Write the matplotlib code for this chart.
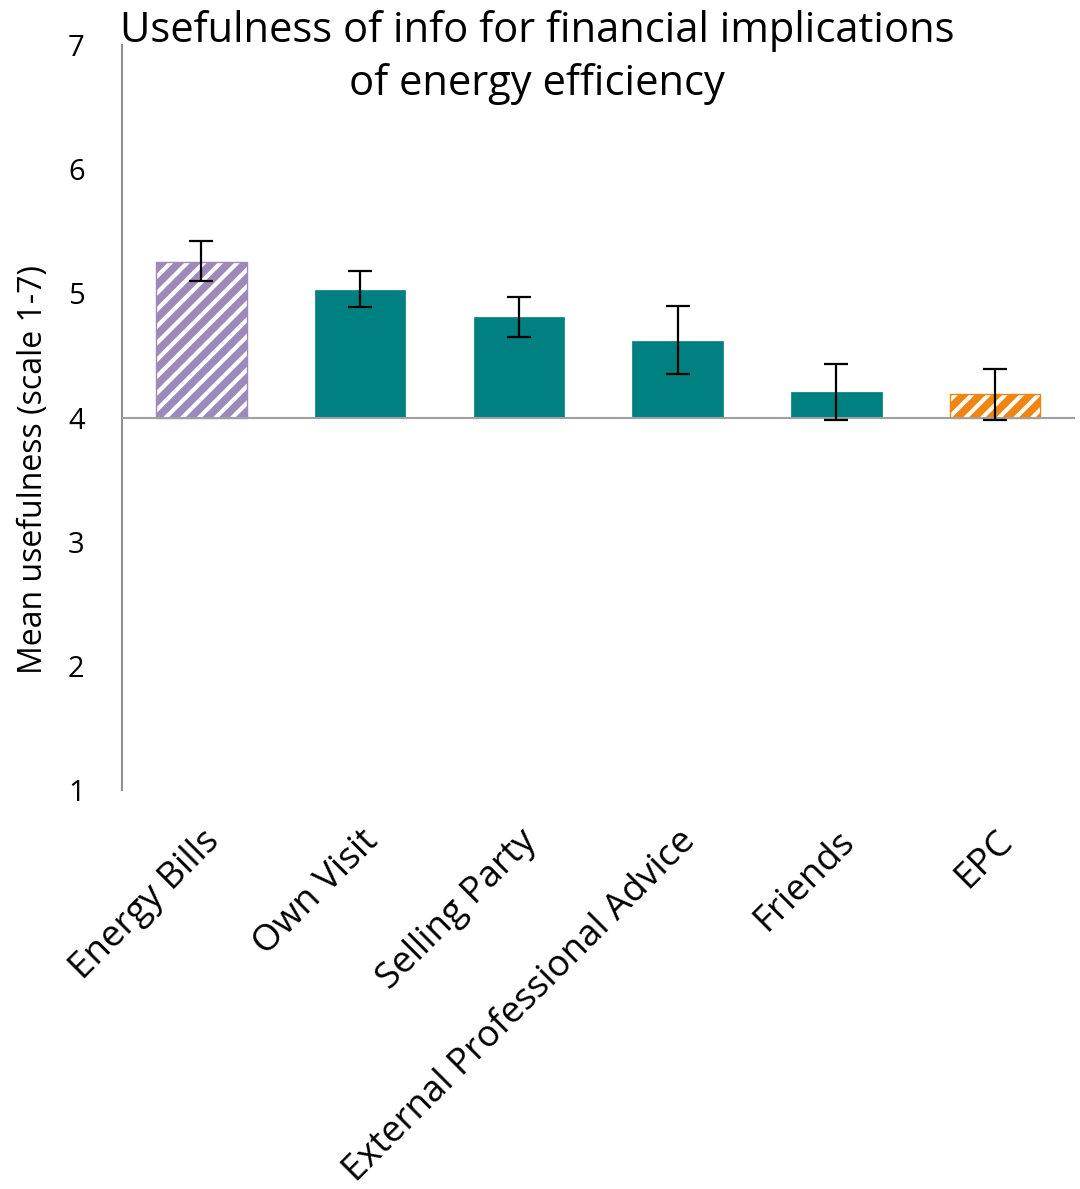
import numpy as np
import matplotlib.pyplot as plt

# data
categories = ["Energy Bills", "Own Visit", "Selling Party",
              "External Professional Advice", "Friends", "EPC"]
means = [5.25, 5.03, 4.81, 4.62, 4.21, 4.19]
err_low = [5.10, 4.89, 4.65, 4.35, 3.98, 3.98]
err_high = [5.42, 5.18, 4.97, 4.90, 4.43, 4.39]
baseline = 4

purple = "#9E89BB"
teal = "#008080"
orange = "#F2850F"
colors = [purple, teal, teal, teal, teal, orange]
hatches = ["//", "", "", "", "", "//"]

plt.rcParams['font.family'] = ['Open Sans', 'DejaVu Sans']
plt.rcParams['hatch.linewidth'] = 3.0

fig = plt.figure(figsize=(10.8, 11.89), dpi=100)
ax = fig.add_axes([0.113, 0.3356, 0.882, 0.6264])

x = np.arange(len(categories))
heights = [m - baseline for m in means]
for i in range(len(categories)):
    if hatches[i]:
        ax.bar(x[i], heights[i], bottom=baseline, width=0.57, color=colors[i],
               edgecolor="white", hatch=hatches[i], linewidth=0, zorder=2)
        ax.bar(x[i], heights[i], bottom=baseline, width=0.57, fill=False,
               edgecolor=colors[i], linewidth=1, zorder=3)
    else:
        ax.bar(x[i], heights[i], bottom=baseline, width=0.57, color=colors[i],
               edgecolor=colors[i], linewidth=0.5, zorder=2)

lo = np.array(means) - np.array(err_low)
hi = np.array(err_high) - np.array(means)
ax.errorbar(x, means, yerr=[lo, hi], fmt="none", ecolor="black",
            elinewidth=1.6, capsize=8.5, capthick=1.6, zorder=5)

ax.axhline(baseline, color="#A0A0A0", linewidth=1.5, zorder=4)

ax.set_xlim(-0.5, len(categories) - 0.5)
ax.set_ylim(1, 7)
ax.set_yticks([1, 2, 3, 4, 5, 6, 7])
ax.tick_params(axis="y", length=0, pad=27, labelsize=21)
ax.tick_params(axis="x", length=0, pad=24)
ax.set_xticks(x)
ax.set_xticklabels(categories, rotation=45, ha="right",
                   rotation_mode="anchor", fontsize=26.5)

for s in ["top", "right", "bottom"]:
    ax.spines[s].set_visible(False)
ax.spines["left"].set_color("#909090")
ax.spines["left"].set_linewidth(1.5)

ax.set_ylabel("Mean usefulness (scale 1-7)", fontsize=23)
ax.yaxis.set_label_coords(-0.076, 0.43)
fig.text(0.497, 0.992, "Usefulness of info for financial implications\nof energy efficiency",
         ha="center", va="top", fontsize=30, linespacing=1.35)

fig.savefig("out.png", dpi=100)
